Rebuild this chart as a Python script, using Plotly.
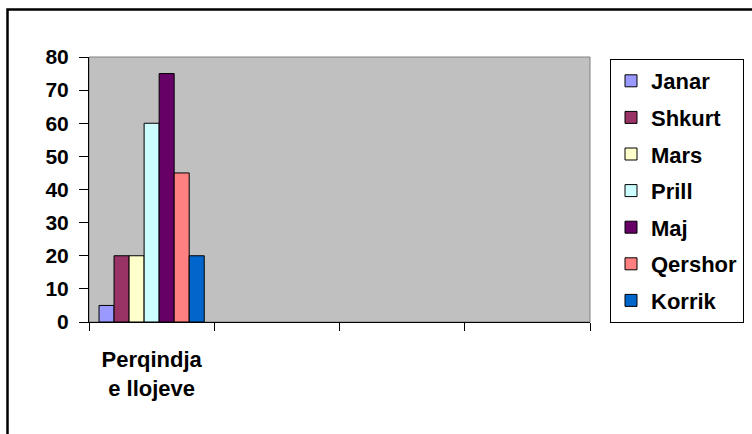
import plotly.graph_objects as go

# Category axis label (first of four slots on the x axis)
category = "Perqindja<br>e llojeve"
slot_count = 4

# Monthly series (percent)
months = ["Janar", "Shkurt", "Mars", "Prill", "Maj", "Qershor", "Korrik"]
values = [5, 20, 20, 60, 75, 45, 20]
colors = ["#9999FF", "#993366", "#FFFFCC", "#CCFFFF", "#660066", "#FF8080", "#0066CC"]

W, H = 752, 434
L, R, T, B = 89, 162, 57, 112
pw, ph = W - L - R, H - T - B


def px_x(x):
    return (x - L) / pw


def px_y(y):
    return (H - B - y) / ph


fig = go.Figure()
for m, v, c in zip(months, values, colors):
    fig.add_trace(go.Bar(
        x=[category], y=[v], name=m, legendgroup=m,
        marker=dict(color=c, line=dict(color="black", width=1)),
    ))

# empty trace that anchors the boundary-tick axis
fig.add_trace(go.Scatter(x=[], y=[], xaxis="x2", yaxis="y",
                         showlegend=False, hoverinfo="skip"))

font_family = "Liberation Sans, Arial, sans-serif"
x_range = [-0.5, slot_count - 0.5]

fig.update_layout(
    width=W, height=H,
    margin=dict(l=L, r=R, t=T, b=B, autoexpand=False),
    paper_bgcolor="white",
    plot_bgcolor="#C0C0C0",
    barmode="group",
    bargap=0.16,
    bargroupgap=0,
    font=dict(family=font_family, color="black"),
    xaxis=dict(
        type="category",
        range=x_range,
        ticks="",
        showline=True,
        linecolor="black",
        linewidth=1,
        showgrid=False,
        tickfont=dict(size=22, family=font_family, color="black", weight="bold"),
        ticklabelstandoff=18,
        fixedrange=True,
    ),
    # boundary ticks between the category slots
    xaxis2=dict(
        overlaying="x",
        side="bottom",
        anchor="y",
        type="linear",
        range=x_range,
        tickmode="array",
        tickvals=[i - 0.5 for i in range(slot_count + 1)],
        showticklabels=False,
        ticks="outside",
        ticklen=8,
        tickcolor="black",
        tickwidth=1,
        showline=False,
        showgrid=False,
        zeroline=False,
        fixedrange=True,
    ),
    yaxis=dict(
        range=[0, 80],
        tickmode="array",
        tickvals=[0, 10, 20, 30, 40, 50, 60, 70, 80],
        ticks="outside",
        ticklen=9,
        tickcolor="black",
        tickwidth=1,
        showline=True,
        linecolor="black",
        linewidth=1,
        showgrid=False,
        zeroline=False,
        tickfont=dict(size=21, family=font_family, color="black", weight="bold"),
        ticklabelstandoff=6,
        fixedrange=True,
    ),
    legend=dict(
        x=px_x(610), y=px_y(59),
        xanchor="left", yanchor="top",
        bordercolor="black", borderwidth=1,
        bgcolor="white",
        font=dict(size=22, family=font_family, color="black", weight="bold"),
        tracegroupgap=5,
        itemwidth=30,
    ),
    shapes=[
        # plot-area border (grey)
        dict(type="rect", xref="paper", yref="paper", x0=0, y0=0, x1=1, y1=1,
             line=dict(color="#808080", width=1), layer="below"),
        # chart frame (top and left edges)
        dict(type="path", xref="paper", yref="paper",
             path=f"M {px_x(7.5)} {px_y(440)} L {px_x(7.5)} {px_y(9.5)} L {px_x(760)} {px_y(9.5)}",
             line=dict(color="black", width=2.5)),
    ],
    showlegend=True,
)

fig.write_html("out.html")
